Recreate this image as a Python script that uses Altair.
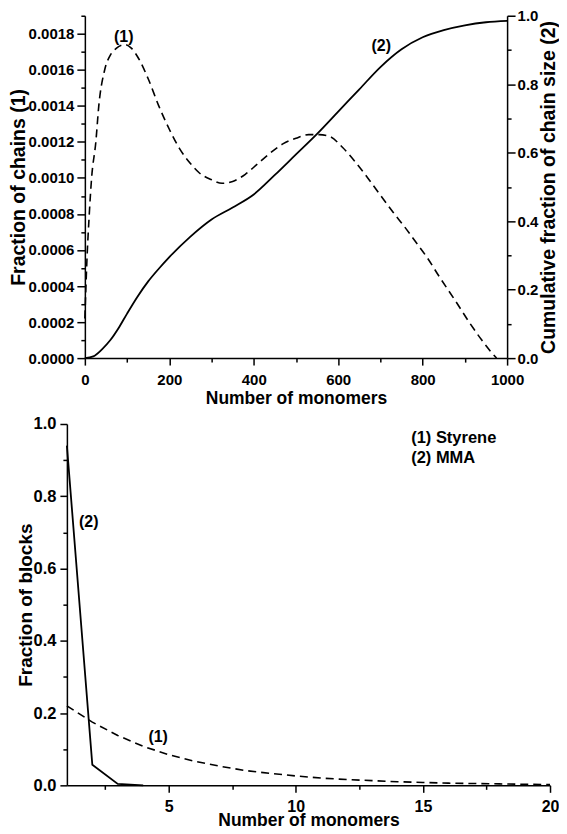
import altair as alt
import pandas as pd

FONT = "Liberation Sans"

# ---- top panel data ----
chain_n = [0, 5, 10, 16, 26, 33, 47, 60, 75, 95, 110, 128, 150, 175, 200, 225, 250, 270,
           300, 325, 350, 380, 410, 440, 470, 500, 530, 555, 580, 610, 640, 670, 695,
           730, 760, 782, 810, 840, 877, 910, 940, 960, 975]
chain_frac = [0.00022, 0.00055, 0.00078, 0.00100, 0.00120, 0.00140, 0.00160, 0.00168, 0.00172,
              0.00174, 0.00172, 0.00166, 0.00155, 0.00140, 0.00127, 0.00116, 0.00108, 0.00103,
              0.00099, 0.00097, 0.00098, 0.00102, 0.00108, 0.00114, 0.00119, 0.00122, 0.00124,
              0.00124, 0.00123, 0.00117, 0.00109, 0.00100, 0.00092, 0.00081, 0.00072, 0.00065,
              0.00056, 0.00045, 0.00032, 0.00020, 0.00010, 0.00004, 0.00000]

cum_n = [0, 20, 40, 60, 80, 100, 125, 150, 175, 200, 250, 300, 350, 400, 450, 500, 550,
         600, 650, 700, 750, 800, 850, 900, 950, 1000]
cum_frac = [0.0, 0.005, 0.025, 0.052, 0.088, 0.13, 0.18, 0.224, 0.261, 0.295, 0.355, 0.405,
            0.44, 0.478, 0.535, 0.595, 0.655, 0.72, 0.785, 0.85, 0.902, 0.937, 0.958, 0.972,
            0.981, 0.985]

top_lbl_text = ["(1)", "(2)"]
top_lbl_x = [92, 702]
top_lbl_y = [0.00178, 0.00173]

# ---- bottom panel data ----
sty_n = list(range(1, 21))
sty_frac = [0.22, 0.175, 0.138, 0.108, 0.085, 0.067, 0.053, 0.041, 0.033, 0.026, 0.020,
            0.016, 0.013, 0.010, 0.008, 0.006, 0.005, 0.004, 0.003, 0.002]
mma_n = [1, 2, 3, 4]
mma_frac = [0.94, 0.057, 0.004, 0.0]

bot_lbl_text = ["(2)", "(1)"]
bot_lbl_x = [1.86, 4.59]
bot_lbl_y = [0.73, 0.135]

legend_text = ["(1) Styrene", "(2) MMA"]
legend_x = [14.54, 14.54]
legend_y = [0.961, 0.906]

left_ticks = [round(i * 0.0001, 4) for i in range(0, 20)]
right_ticks = [round(i * 0.1, 1) for i in range(0, 11)]
top_x_ticks = list(range(0, 1001, 100))
bot_x_ticks = [2.5, 5, 7.5, 10, 12.5, 15, 17.5, 20]
bot_y_ticks = [round(i * 0.1, 1) for i in range(0, 11)]

df_chain = pd.DataFrame({"n": chain_n, "f": chain_frac})
df_cum = pd.DataFrame({"n": cum_n, "c": cum_frac})
df_tl = pd.DataFrame({"x": top_lbl_x, "y": top_lbl_y, "t": top_lbl_text})
df_sty = pd.DataFrame({"n": sty_n, "f": sty_frac})
df_mma = pd.DataFrame({"n": mma_n, "f": mma_frac})
df_bl = pd.DataFrame({"x": bot_lbl_x, "y": bot_lbl_y, "t": bot_lbl_text})
df_leg = pd.DataFrame({"x": legend_x, "y": legend_y, "t": legend_text})

TOP_W, TOP_H = 441, 343
TOP_OFF = 18
BOT_W, BOT_H = 484, 362

common_axis = dict(
    labelFont=FONT, titleFont=FONT, labelFontWeight="bold", titleFontWeight="bold",
    labelColor="black", titleColor="black", domainColor="black", tickColor="black",
    domainWidth=1.5, tickWidth=1.5, grid=False, labelOverlap=False, labelFlush=False,
)

# ---- top panel ----
xs_top = alt.Scale(domain=[0, 1000], range=[TOP_OFF, TOP_W], nice=False, zero=False)
x_axis_top = alt.Axis(
    values=top_x_ticks, title="Number of monomers",
    labelExpr="datum.value % 200 == 0 ? format(datum.value, 'd') : ''",
    tickSize={"condition": {"test": "datum.value % 200 != 0", "value": 4}, "value": 7},
    labelFontSize=15, titleFontSize=17.5, labelPadding=7, titlePadding=2,
    **common_axis,
)
ys_left = alt.Scale(domain=[0, 0.0019], nice=False, zero=True)
left_axis = alt.Axis(
    values=left_ticks, title="Fraction of chains (1)", offset=-TOP_OFF,
    labelExpr="round(datum.value*10000) % 2 == 0 ? format(datum.value, '.4f') : ''",
    tickSize={"condition": {"test": "round(datum.value*10000) % 2 == 1", "value": 4}, "value": 8},
    labelFontSize=15, titleFontSize=19.5, labelPadding=3, titlePadding=0,
    **common_axis,
)
ys_right = alt.Scale(domain=[0, 1.0], nice=False, zero=True)
right_axis = alt.Axis(
    values=right_ticks, title="Cumulative fraction of chain size (2)", orient="right",
    labelExpr="round(datum.value*10) % 2 == 0 ? format(datum.value, '.1f') : ''",
    tickSize={"condition": {"test": "round(datum.value*10) % 2 == 1", "value": 4}, "value": 8},
    labelFontSize=15, titleFontSize=19.5, labelPadding=2, titlePadding=2,
    titleAngle=270, titleBaseline="top",
    **common_axis,
)

dash_top = alt.Chart(df_chain).mark_line(
    color="black", strokeDash=[8, 5], strokeWidth=1.6, interpolate="monotone"
).encode(
    x=alt.X("n:Q", scale=xs_top, axis=x_axis_top),
    y=alt.Y("f:Q", scale=ys_left, axis=left_axis),
)
solid_top = alt.Chart(df_cum).mark_line(
    color="black", strokeWidth=1.8, interpolate="monotone"
).encode(
    x=alt.X("n:Q", scale=xs_top, axis=x_axis_top),
    y=alt.Y("c:Q", scale=ys_right, axis=right_axis),
)
text_top = alt.Chart(df_tl).mark_text(
    font=FONT, fontWeight="bold", fontSize=16, color="black"
).encode(
    x=alt.X("x:Q", scale=xs_top, axis=x_axis_top),
    y=alt.Y("y:Q", scale=ys_left, axis=None),
    text="t:N",
)
top = alt.layer(dash_top, solid_top, text_top).resolve_scale(y="independent").properties(
    width=TOP_W, height=TOP_H
)

# ---- bottom panel ----
xs_bot = alt.Scale(domain=[1, 20], nice=False, zero=False)
x_axis_bot = alt.Axis(
    values=bot_x_ticks, title="Number of monomers",
    labelExpr="datum.value % 5 == 0 ? format(datum.value, 'd') : ''",
    tickSize={"condition": {"test": "datum.value % 5 != 0", "value": 4}, "value": 7},
    labelFontSize=16, titleFontSize=17.5, labelPadding=6, titlePadding=-3,
    **common_axis,
)
ys_bot = alt.Scale(domain=[0, 1.0], nice=False, zero=True)
y_axis_bot = alt.Axis(
    values=bot_y_ticks, title="Fraction of blocks",
    labelExpr="round(datum.value*10) % 2 == 0 ? format(datum.value, '.1f') : ''",
    tickSize={"condition": {"test": "round(datum.value*10) % 2 == 1", "value": 4}, "value": 7},
    labelFontSize=16.5, titleFontSize=19, labelPadding=4, titlePadding=-2,
    **common_axis,
)

sty_line = alt.Chart(df_sty).mark_line(
    color="black", strokeDash=[8, 5], strokeWidth=1.6
).encode(
    x=alt.X("n:Q", scale=xs_bot, axis=x_axis_bot),
    y=alt.Y("f:Q", scale=ys_bot, axis=y_axis_bot),
)
mma_line = alt.Chart(df_mma).mark_line(color="black", strokeWidth=1.8).encode(
    x=alt.X("n:Q", scale=xs_bot, axis=x_axis_bot),
    y=alt.Y("f:Q", scale=ys_bot, axis=y_axis_bot),
)
text_bot = alt.Chart(df_bl).mark_text(
    font=FONT, fontWeight="bold", fontSize=16, color="black"
).encode(
    x=alt.X("x:Q", scale=xs_bot, axis=x_axis_bot),
    y=alt.Y("y:Q", scale=ys_bot, axis=y_axis_bot),
    text="t:N",
)
legend_bot = alt.Chart(df_leg).mark_text(
    font=FONT, fontWeight="bold", fontSize=16.5, color="black", align="left"
).encode(
    x=alt.X("x:Q", scale=xs_bot, axis=x_axis_bot),
    y=alt.Y("y:Q", scale=ys_bot, axis=y_axis_bot),
    text="t:N",
)
bottom = alt.layer(sty_line, mma_line, text_bot, legend_bot).properties(
    width=BOT_W, height=BOT_H
)

chart = alt.vconcat(top, bottom, spacing=9).properties(
    padding={"left": 0, "top": 0, "right": 0, "bottom": 0},
    background="white",
).configure_view(stroke=None)

chart.save("out.html", embed_options={"renderer": "svg", "actions": False})
